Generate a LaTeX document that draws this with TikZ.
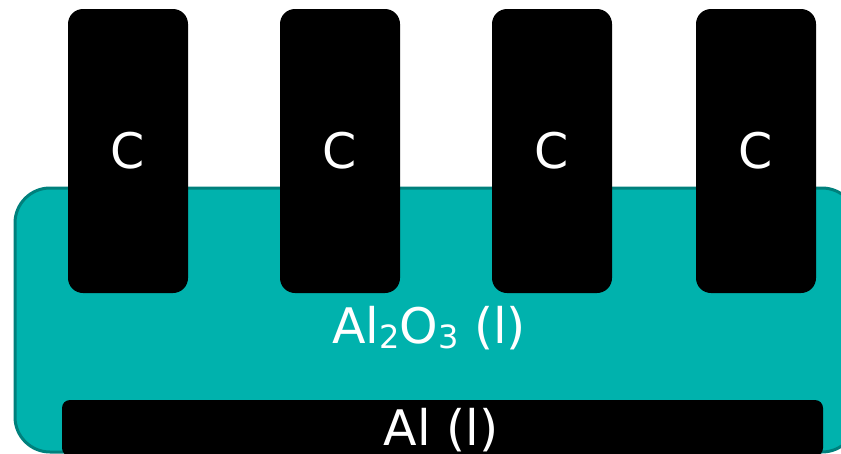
\documentclass[tikz,border=0pt]{standalone}
\usepackage{fontspec}
\setmainfont{DejaVu Sans}
\definecolor{bathfill}{HTML}{00B2AD}
\definecolor{bathline}{HTML}{00807C}
\newcommand{\mysub}[1]{\raisebox{-5pt}{\fontsize{32}{32}\selectfont #1}}
\tikzset{
  electrode/.style={fill=black, rounded corners=15pt, minimum width=120pt, minimum height=284pt, inner sep=0pt, text=white, font=\fontsize{49}{52}\selectfont},
  bath/.style={fill=bathfill, draw=bathline, line width=3pt, rounded corners=35pt, minimum width=842pt, minimum height=264pt, inner sep=0pt},
  metal/.style={fill=black, rounded corners=8pt, minimum width=761pt, minimum height=56pt, inner sep=0pt},
  lbl/.style={text=white, font=\fontsize{49}{52}\selectfont, inner sep=0pt},
}
\begin{document}
\begin{tikzpicture}[x=1pt,y=-1pt]
\useasboundingbox (0,0) rectangle (841,453);
\clip (0,0) rectangle (841,453);
\node[bath] (bath) at (436,320) {};
\node[metal] (metal) at (442.5,428) {};
\node[lbl] (al) at (441,430) {Al (l)};
\node[lbl] (alo) at (429,328) {Al\mysub{2}O\mysub{3} (l)};
\node[electrode] (c1) at (128,151) {\raisebox{-2pt}{C}};
\node[electrode] (c2) at (340,151) {\raisebox{-2pt}{C}};
\node[electrode] (c3) at (552,151) {\raisebox{-2pt}{C}};
\node[electrode] (c4) at (756,151) {\raisebox{-2pt}{C}};
\end{tikzpicture}
\end{document}
